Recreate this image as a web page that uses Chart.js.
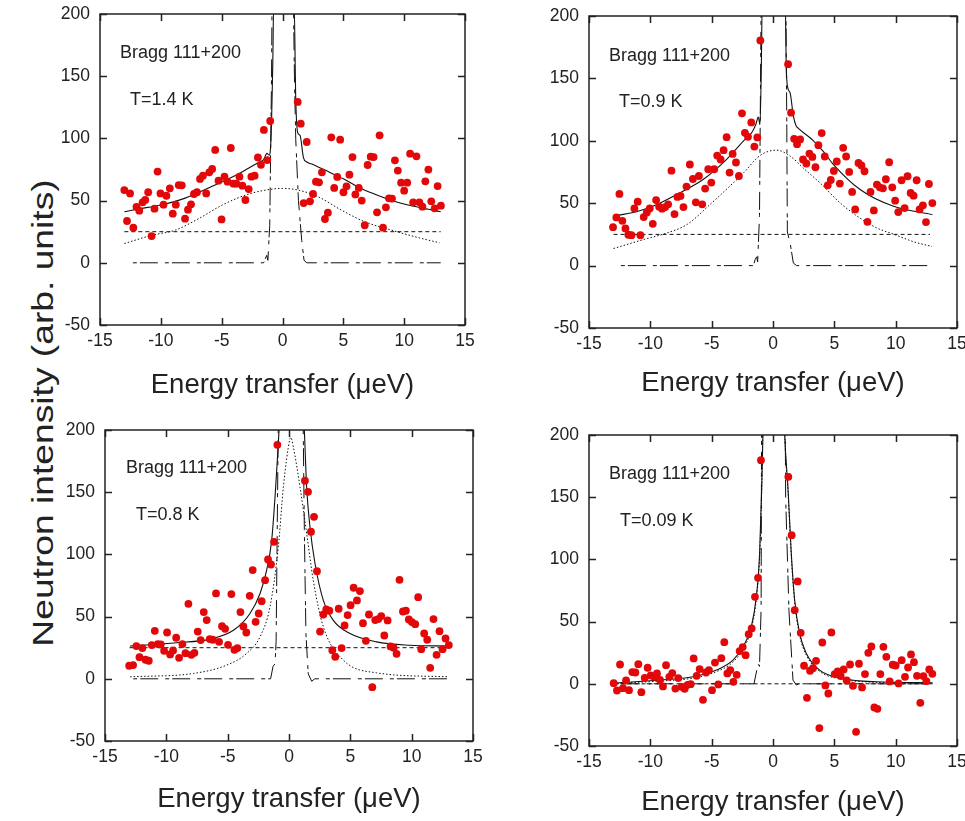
<!DOCTYPE html>
<html>
<head>
<meta charset="utf-8">
<script src="https://cdn.jsdelivr.net/npm/chart.js@4.4.1/dist/chart.umd.min.js"></script>
<style>
  body { margin: 0; background: #fff; width: 965px; height: 821px; overflow: hidden; position: relative;
         font-family: "Liberation Sans", Arial, Helvetica, sans-serif; color: #222; }
  canvas { position: absolute; }
  .note { position: absolute; font-size: 18px; line-height: 18px; white-space: nowrap; }
  #ytitle { position: absolute; width: 600px; height: 36px; line-height: 36px; font-size: 30px; text-align: center;
            left: -257px; top: 395px; transform: rotate(-90deg) scaleX(1.24); white-space: nowrap; }
</style>
</head>
<body>
<div id="ytitle">Neutron intensity (arb. units)</div>
<script>
// Measured points [energy, intensity] for each temperature
const pts14 = [[-13.0,58.5],[-12.78,33.6],[-12.53,55.8],[-12.26,28.2],[-12.0,44.9],[-11.77,41.9],[-11.5,48.6],[-11.28,50.5],[-11.04,56.7],[-10.76,21.5],[-10.52,43.5],[-10.27,73.3],[-10.03,55.8],[-9.78,46.7],[-9.54,53.9],[-9.26,59.9],[-9.02,39.5],[-8.77,46.7],[-8.53,62.5],[-8.28,62.3],[-8.01,35.5],[-7.77,42.7],[-7.52,47.0],[-7.28,55.3],[-7.03,56.7],[-6.78,67.4],[-6.54,70.0],[-6.27,55.8],[-6.02,72.7],[-5.78,75.4],[-5.53,90.7],[-5.26,66.0],[-5.01,34.9],[-4.77,69.2],[-4.52,65.2],[-4.25,92.3],[-4.03,63.6],[-3.79,63.6],[-3.54,69.2],[-3.30,62.0],[-3.05,50.5],[-2.78,59.3],[-2.56,69.2],[-2.29,70.0],[-2.02,84.7],[-1.77,78.8],[-1.53,106.8],[-1.25,82.6],[-1.01,114.0],
  [1.25,129.3],[1.50,111.8],[1.74,48.0],[1.99,97.1],[2.26,49.4],[2.51,55.3],[2.75,65.2],[3.00,64.7],[3.24,72.7],[3.49,35.2],[3.73,40.3],[4.01,100.9],[4.25,60.2],[4.50,69.0],[4.74,99.0],[5.01,56.7],[5.26,61.5],[5.50,70.8],[5.75,85.0],[5.99,55.0],[6.27,60.2],[6.51,50.0],[6.76,30.2],[7.00,78.6],[7.25,85.3],[7.49,85.0],[7.77,40.6],[7.98,102.5],[8.26,28.2],[8.50,44.6],[8.75,51.8],[9.00,51.6],[9.24,82.4],[9.48,74.1],[9.75,64.4],[10.0,58.0],[10.25,64.4],[10.49,87.7],[10.74,48.6],[11.01,85.6],[11.25,48.6],[11.50,45.1],[11.74,65.5],[11.99,74.9],[12.23,49.4],[12.51,43.8],[12.75,61.7],[13.02,45.9]];
const pts09 = [[-13.04,30.8],[-12.77,38.6],[-12.52,57.4],[-12.28,35.9],[-12.03,29.8],[-11.79,24.7],[-11.54,24.4],[-11.30,45.8],[-11.03,51.2],[-10.81,24.4],[-10.54,38.9],[-10.29,42.6],[-10.05,45.8],[-9.80,33.5],[-9.53,52.5],[-9.28,47.2],[-9.04,45.6],[-8.79,46.9],[-8.55,49.1],[-8.28,76.1],[-8.03,41.3],[-7.79,55.0],[-7.54,55.8],[-7.30,46.9],[-7.05,63.3],[-6.78,81.0],[-6.53,69.4],[-6.29,50.7],[-6.04,71.8],[-5.77,49.1],[-5.53,61.7],[-5.28,77.2],[-5.03,66.5],[-4.79,77.2],[-4.55,88.2],[-4.27,85.0],[-4.03,92.5],[-3.78,102.9],[-3.54,74.5],[-3.29,89.5],[-3.02,82.6],[-2.78,71.8],[-2.53,122.0],[-2.29,106.4],[-2.04,103.2],[-1.77,114.7],[-1.52,95.4],[-1.28,102.7],[-1.03,180.4],
  [1.23,161.4],[1.47,122.5],[1.72,101.6],[1.96,97.3],[2.21,101.1],[2.45,85.0],[2.72,81.8],[2.97,89.8],[3.21,87.1],[3.46,78.8],[3.70,96.5],[3.97,106.2],[4.22,87.4],[4.46,64.3],[4.71,68.6],[4.96,75.9],[5.20,83.4],[5.45,65.7],[5.72,94.4],[5.96,87.4],[6.21,75.1],[6.45,59.0],[6.70,45.0],[6.97,82.3],[7.21,80.2],[7.46,75.6],[7.70,35.1],[7.95,59.0],[8.22,44.2],[8.47,64.9],[8.71,62.7],[8.96,61.9],[9.20,69.2],[9.47,82.8],[9.72,62.7],[9.96,52.0],[10.21,42.9],[10.48,68.4],[10.73,46.1],[10.97,71.6],[11.22,58.2],[11.46,56.0],[11.71,68.4],[11.95,45.0],[12.22,48.3],[12.47,34.9],[12.71,65.4],[12.99,50.1]];
const pts08 = [[-13.03,10.5],[-12.71,11.0],[-12.44,26.3],[-12.19,17.4],[-11.95,24.7],[-11.70,15.3],[-11.43,14.5],[-11.19,27.1],[-10.94,38.6],[-10.70,27.9],[-10.45,27.6],[-10.18,22.5],[-9.94,37.2],[-9.69,19.6],[-9.45,22.8],[-9.20,33.0],[-8.96,16.9],[-8.69,27.9],[-8.44,20.6],[-8.20,60.3],[-7.96,19.3],[-7.71,20.9],[-7.44,38.0],[-7.20,31.1],[-6.95,53.6],[-6.71,47.2],[-6.46,31.9],[-6.22,31.4],[-5.95,68.6],[-5.70,29.7],[-5.46,42.3],[-5.21,40.2],[-4.97,27.3],[-4.70,68.1],[-4.45,23.3],[-4.21,24.7],[-3.96,53.6],[-3.72,42.1],[-3.48,37.2],[-3.20,66.7],[-2.96,87.4],[-2.72,45.8],[-2.47,52.5],[-2.23,62.4],[-1.95,79.3],[-1.71,95.9],[-1.47,91.9],[-1.22,110.1],[-0.95,188.1],
  [1.30,159.2],[1.55,150.3],[1.79,118.2],[2.04,130.2],[2.28,86.5],[2.53,38.0],[2.80,51.7],[3.04,55.7],[3.29,54.7],[3.53,23.0],[3.77,17.7],[4.05,56.3],[4.29,24.7],[4.53,42.9],[4.78,51.2],[5.02,59.2],[5.27,73.2],[5.54,63.0],[5.78,70.5],[6.03,44.7],[6.27,30.5],[6.52,51.7],[6.79,-6.7],[7.03,47.2],[7.28,48.0],[7.52,50.4],[7.77,34.8],[8.04,46.9],[8.28,26.0],[8.53,24.9],[8.77,20.1],[9.01,79.6],[9.29,54.1],[9.53,54.7],[9.77,47.7],[10.02,45.6],[10.29,43.9],[10.53,65.6],[10.78,23.8],[11.02,36.4],[11.27,31.4],[11.51,8.8],[11.78,48.0],[12.03,19.3],[12.27,38.3],[12.52,23.8],[12.76,32.4],[13.03,27.1]];
const pts009 = [[-12.99,0.5],[-12.72,-5.4],[-12.47,15.5],[-12.23,-3.5],[-11.98,2.7],[-11.74,-5.1],[-11.47,9.4],[-11.22,9.1],[-10.98,15.8],[-10.73,-6.7],[-10.46,4.8],[-10.22,12.9],[-9.97,6.7],[-9.70,5.6],[-9.46,8.3],[-9.21,3.2],[-8.97,-2.1],[-8.72,15.0],[-8.45,5.6],[-8.21,8.6],[-7.96,-3.8],[-7.72,4.6],[-7.45,-2.4],[-7.20,-4.0],[-6.96,-0.8],[-6.71,-0.3],[-6.47,20.4],[-6.22,6.4],[-5.98,11.8],[-5.71,-12.9],[-5.46,9.1],[-5.22,11.0],[-4.97,-5.1],[-4.73,17.1],[-4.46,-0.5],[-4.21,20.6],[-3.97,33.5],[-3.72,8.3],[-3.48,11.0],[-3.23,1.6],[-2.96,7.2],[-2.72,26.3],[-2.47,29.5],[-2.23,23.0],[-1.98,39.9],[-1.74,44.5],[-1.47,69.9],[-1.22,85.2],[-0.98,179.8],
  [1.25,166.4],[1.52,119.5],[1.77,59.2],[2.01,82.3],[2.26,41.0],[2.53,14.5],[2.77,-11.3],[3.02,10.5],[3.26,12.6],[3.51,18.5],[3.78,-35.6],[4.02,33.2],[4.27,-1.3],[4.51,-7.8],[4.76,41.3],[5.03,7.8],[5.27,9.9],[5.52,6.2],[5.76,11.5],[6.01,2.7],[6.28,15.5],[6.52,-1.6],[6.77,-38.6],[7.01,16.1],[7.26,-2.9],[7.50,7.8],[7.77,24.9],[8.02,30.0],[8.26,-19.0],[8.51,-20.1],[8.75,7.8],[9.00,29.7],[9.24,21.7],[9.51,1.9],[9.76,15.3],[10.0,14.7],[10.24,0.3],[10.49,19.0],[10.76,5.6],[11.01,13.1],[11.25,23.6],[11.49,17.4],[11.74,6.4],[12.01,-15.3],[12.26,6.2],[12.50,2.1],[12.74,11.5],[12.99,8.0]];

// Total fit (solid), quasi-elastic part (dotted), background (dashed), resolution (dash-dot)
const fit14 = [[-13,41],[-12,43],[-10,46.5],[-8,52],[-6,60.5],[-4,69.5],[-2.8,76],[-2,80.5],[-1.55,83],[-1.28,88],[-1.1,86.5],[-0.95,99],[-0.8,160],[-0.72,210],[0.95,210],[1.09,131],[1.25,104.6],[1.44,102.5],[1.72,84.6],[2,81],[2.5,79],[3.5,74.5],[5,67.5],[6.2,61],[7.5,55.5],[9,50],[10.5,46],[12,43],[13,41]];
const qe14 = [[-13,15.5],[-10.7,22.2],[-8.8,26.3],[-6.87,35.6],[-4.96,46.4],[-3.05,54.4],[-1.42,58.4],[0,59.8],[1.31,58.4],[2.94,53],[4.85,42.3],[6.76,33],[8.94,26.3],[11.1,20.4],[12.9,16.1]];
const bg14 = [[-13,25],[13,25]];
const res14 = [[-12.3,0],[-1.55,0],[-1.3,6],[-1.2,2],[-1.05,30],[-0.9,150],[-0.86,210],[0.9,210],[0.98,150],[1.09,99],[1.31,50],[1.58,18],[1.77,2],[2.0,0],[13,0]];

const fit09 = [[-12.8,40],[-11,43.5],[-9.8,47.5],[-7.9,56.8],[-5.7,69],[-3.8,85],[-2.3,101],[-1.74,106.4],[-1.4,113],[-1.2,119],[-1.06,113],[-0.95,160],[-0.88,210],[1.0,210],[1.08,160],[1.2,142.6],[1.39,138.6],[1.66,120],[1.88,112],[2.07,110],[3.3,100],[4.1,91.5],[4.93,81],[7.1,61],[9.83,47.5],[13,40.8]];
const qe09 = [[-13,13.7],[-10.5,21],[-8.7,26],[-7,33],[-5.15,48.8],[-3.7,62],[-2.4,74.3],[-1.06,88.2],[0.3,92.5],[1.4,87.7],[2.6,77],[3.84,66.2],[5.5,50],[7.1,38],[8.5,30],[9.83,25.2],[11.5,19],[12.96,15.3]];
const bg09 = [[-13,25],[12.8,25]];
const res09 = [[-12.4,0],[-1.6,0],[-1.45,5],[-1.33,7],[-1.25,3],[-1.1,40],[-0.97,210],[1.05,210],[1.12,120],[1.17,27],[1.4,18],[1.66,2],[1.93,0],[12.8,0]];

const fit08 = [[-12.95,26.3],[-9.15,29],[-6.43,31.9],[-4.53,39],[-3.18,52.5],[-2.36,68.6],[-1.82,87.4],[-1.41,111.5],[-1.14,146],[-0.95,176],[-0.81,200],[-0.75,210],[1.2,210],[1.25,200],[1.44,154],[1.71,122],[2.12,92.7],[2.8,63],[3.61,47],[4.97,36.4],[7.14,29.7],[9.86,27],[12.98,26.3]];
const qe08 = [[-12.95,1.6],[-7.79,4.3],[-5.08,11],[-3.45,20.4],[-2.36,33.8],[-1.55,57.9],[-0.87,106],[-0.46,154],[0.08,193],[0.15,194],[0.35,186.5],[0.9,154],[1.44,117],[1.98,79],[2.8,41.8],[4.43,15],[7.14,4.8],[12.98,1.6]];
const bg08 = [[-13,25],[13,25]];
const res08 = [[-12.7,0],[-1.5,0],[-1.3,10],[-1.14,12],[-1.05,30],[-0.87,210],[1.15,210],[1.25,120],[1.38,36],[1.57,4],[1.85,-2],[2.1,0],[12.9,0]];

const fit009 = [[-13,0.5],[-9.24,3],[-6.52,5.6],[-4.62,11],[-3.26,19],[-2.45,29.7],[-1.77,45.8],[-1.36,70],[-1.09,104.8],[-0.92,158],[-0.82,200],[-0.78,210],[0.92,210],[0.95,200],[1.22,158],[1.49,105],[1.77,67],[2.17,40.5],[2.72,24.4],[3.8,11],[5.7,4.3],[8.4,1.6],[13,0.8]];
const qe009 = [[-13,0.4],[-9.2,2.2],[-6.5,4.6],[-4.6,9.8],[-3.26,17.5],[-2.45,28],[-1.77,44],[-1.36,68],[-1.09,103],[-0.92,156],[-0.8,210],[0.95,210],[1.0,190],[1.22,155],[1.49,103],[1.77,65],[2.17,39],[2.72,23],[3.8,10],[5.7,3.6],[8.4,1.2],[13,0.5]];
const bg009 = [[-13,0],[13,0]];
const res009 = [[-12.9,0],[-1.55,0],[-1.3,12],[-1.22,16],[-1.1,14],[-0.97,60],[-0.93,210],[1.0,210],[1.03,150],[1.3,59],[1.63,3],[1.9,-1],[2.1,0],[13,0]];

const temps = ['T=1.4 K', 'T=0.9 K', 'T=0.8 K', 'T=0.09 K'];
const xTicks = [-15, -10, -5, 0, 5, 10, 15];
const yTicks = [-50, 0, 50, 100, 150, 200];

Chart.defaults.font.family = '"Liberation Sans", Arial, Helvetica, sans-serif';
Chart.defaults.color = '#222';

const RED = 'rgb(226,8,10)';
const TITLE_SIZE = 27.5;
const xy = arr => arr.map(([x, y]) => ({x, y}));

// box round the plot + inward ticks on all four sides
const framePlugin = {
  id: 'frame',
  afterDraw(chart) {
    const {ctx, chartArea: a, scales: {x, y}} = chart;
    ctx.save();
    ctx.strokeStyle = '#222';
    ctx.lineWidth = 1.5;
    ctx.strokeRect(a.left, a.top, a.right - a.left, a.bottom - a.top);
    ctx.beginPath();
    xTicks.forEach(v => {
      const px = Math.round(x.getPixelForValue(v)) + 0.5;
      ctx.moveTo(px, a.bottom); ctx.lineTo(px, a.bottom - 7);
      ctx.moveTo(px, a.top); ctx.lineTo(px, a.top + 7);
    });
    yTicks.forEach(v => {
      const py = Math.round(y.getPixelForValue(v)) + 0.5;
      ctx.moveTo(a.left, py); ctx.lineTo(a.left + 7, py);
      ctx.moveTo(a.right, py); ctx.lineTo(a.right - 7, py);
    });
    ctx.stroke();
    ctx.restore();
  }
};

function makePanel(p) {
  const titleH = Math.round(p.titleOff + TITLE_SIZE * 0.6);
  const cv = document.createElement('canvas');
  cv.width = p.R - p.L + 72;
  cv.height = p.B - p.T + 12 + titleH;
  cv.style.left = (p.L - 60) + 'px';
  cv.style.top = (p.T - 12) + 'px';
  document.body.appendChild(cv);

  const line = (data, dash, width, mode) => ({
    data: xy(data), showLine: true, pointRadius: 0, borderColor: '#111', borderWidth: width,
    borderDash: dash, cubicInterpolationMode: mode, tension: 0
  });

  new Chart(cv, {
    type: 'scatter',
    data: {
      datasets: [
        { data: xy(p.pts), pointRadius: 3.9, pointBackgroundColor: RED, pointBorderWidth: 0, showLine: false },
        line(p.fit, [], 1.1, 'monotone'),
        line(p.qe, [1.5, 2], 1, 'monotone'),
        line(p.bg, [4, 3], 1, 'default'),
        line(p.res, [4, 3, 18, 7], 1, 'default')
      ]
    },
    options: {
      responsive: false,
      animation: false,
      events: [],
      layout: { padding: { top: 12, right: 12, left: 0, bottom: 0 } },
      plugins: { legend: { display: false }, tooltip: { enabled: false } },
      scales: {
        x: {
          type: 'linear', min: -15, max: 15,
          ticks: { stepSize: 5, font: { size: 17.5 }, padding: 6, color: '#222' },
          grid: { display: false, drawTicks: false },
          border: { display: false },
          title: { display: true, text: 'Energy transfer (μeV)', font: { size: TITLE_SIZE }, color: '#222', padding: 0 },
          afterFit(s) { s.height = titleH; s.paddingLeft = 0; s.paddingRight = 0; }
        },
        y: {
          type: 'linear', min: -50, max: 200,
          ticks: { stepSize: 50, font: { size: 17.5 }, padding: 10, color: '#222' },
          grid: { display: false, drawTicks: false },
          border: { display: false },
          afterFit(s) { s.width = 60; s.paddingTop = 0; s.paddingBottom = 0; }
        }
      }
    },
    plugins: [framePlugin]
  });

  const n1 = document.createElement('div');
  n1.className = 'note'; n1.textContent = 'Bragg 111+200';
  n1.style.left = p.nx + 'px'; n1.style.top = p.ny + 'px';
  const n2 = document.createElement('div');
  n2.className = 'note'; n2.textContent = p.temp;
  n2.style.left = p.tx + 'px'; n2.style.top = p.ty + 'px';
  document.body.appendChild(n1);
  document.body.appendChild(n2);
}

makePanel({ L: 100, T: 14, R: 465, B: 325, titleOff: 60.5, pts: pts14, fit: fit14, qe: qe14, bg: bg14, res: res14,
            temp: temps[0], nx: 120, ny: 43.2, tx: 130, ty: 90.2 });
makePanel({ L: 589, T: 16, R: 957, B: 328, titleOff: 55.5, pts: pts09, fit: fit09, qe: qe09, bg: bg09, res: res09,
            temp: temps[1], nx: 609, ny: 45.7, tx: 619, ty: 92.2 });
makePanel({ L: 105, T: 430, R: 473, B: 741, titleOff: 58, pts: pts08, fit: fit08, qe: qe08, bg: bg08, res: res08,
            temp: temps[2], nx: 126, ny: 458.2, tx: 136, ty: 505.2 });
makePanel({ L: 589, T: 435, R: 957, B: 746, titleOff: 56, pts: pts009, fit: fit009, qe: qe009, bg: bg009, res: res009,
            temp: temps[3], nx: 609, ny: 463.7, tx: 620, ty: 510.7 });
</script>
</body>
</html>
